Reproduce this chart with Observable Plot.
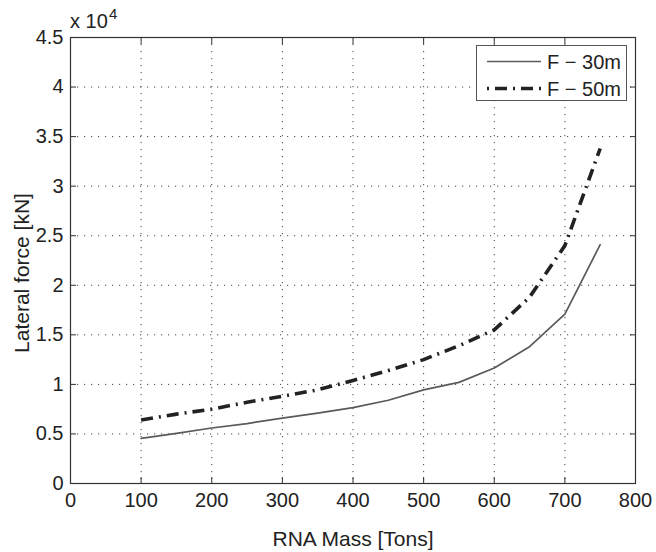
<!DOCTYPE html>
<html><head><meta charset="utf-8">
<script src="https://cdn.jsdelivr.net/npm/d3@7"></script>
<script src="https://cdn.jsdelivr.net/npm/@observablehq/plot@0.6"></script>
<style>
body{margin:0;background:#fff;}
#wrap{position:relative;width:656px;height:552px;font-family:"Liberation Sans",Arial,sans-serif;color:#222;}
#wrap svg{display:block;}
.ov{position:absolute;white-space:nowrap;}
#legend{position:absolute;left:476px;top:45px;width:151px;height:56px;border:1px solid #555;background:#fff;box-sizing:border-box;}
#ytitle{position:absolute;left:21px;top:273px;transform:translate(-50%,-50%) rotate(-90deg);font-size:21px;line-height:21px;white-space:nowrap;}
</style></head><body><div id="wrap"></div>
<script>
// Data
const mass = [100, 150, 200, 250, 300, 350, 400, 450, 500, 550, 600, 650, 700, 750];
const force30 = [4550, 5050, 5600, 6050, 6600, 7100, 7650, 8400, 9450, 10200, 11650, 13800, 17100, 24100];
const force50 = [6400, 7000, 7500, 8200, 8800, 9450, 10400, 11400, 12500, 13900, 15500, 18800, 24000, 33800];
const seriesNames = ["F \u2212 30m", "F \u2212 50m"];
const xTicks = [0, 100, 200, 300, 400, 500, 600, 700, 800];
const yTicks = [0, 5000, 10000, 15000, 20000, 25000, 30000, 35000, 40000, 45000];
const yTickLabels = ["0", "0.5", "1", "1.5", "2", "2.5", "3", "3.5", "4", "4.5"];
const xTitle = "RNA Mass [Tons]";
const yTitle = "Lateral force [kN]";
const exponentBase = "x 10";
const exponent = "4";

const s30 = mass.map((m, i) => ({m, f: force30[i]}));
const s50 = mass.map((m, i) => ({m, f: force50[i]}));

const gridStyle = {stroke: "#444", strokeOpacity: 1, strokeWidth: 1, strokeDasharray: "1.2,5.8"};
const tickStyle = {tickSize: 6, tickFormat: () => "", label: null, stroke: "#333", strokeWidth: 1};

const chart = Plot.plot({
  width: 656, height: 552,
  marginLeft: 70, marginRight: 21, marginTop: 37, marginBottom: 69,
  x: {domain: [0, 800]},
  y: {domain: [0, 45000]},
  style: {fontFamily: "Liberation Sans, Arial, sans-serif", fontSize: "20px", color: "#222", background: "#fff"},
  marks: [
    Plot.gridX(xTicks, gridStyle),
    Plot.gridY(yTicks, gridStyle),
    Plot.axisX(xTicks, {anchor: "bottom", dy: -6, ...tickStyle}),
    Plot.axisX(xTicks, {anchor: "top", dy: 6, ...tickStyle}),
    Plot.axisY(yTicks, {anchor: "left", dx: 6, ...tickStyle}),
    Plot.axisY(yTicks, {anchor: "right", dx: -6, ...tickStyle}),
    Plot.line(s30, {x: "m", y: "f", stroke: "#5a5a5a", strokeWidth: 1.7}),
    Plot.line(s50, {x: "m", y: "f", stroke: "#222", strokeWidth: 3.6, strokeDasharray: "12,6,2,6", strokeLinecap: "butt"}),
    Plot.frame({stroke: "#333", strokeWidth: 1.2}),
    Plot.text(xTicks, {x: d => d, frameAnchor: "bottom", dy: 17.5, text: d => String(d), lineAnchor: "middle", fontSize: 20, fill: "#222"}),
    Plot.text(yTicks, {y: d => d, frameAnchor: "left", dx: -7, textAnchor: "end", lineAnchor: "middle", text: (d, i) => yTickLabels[i], fontSize: 20, fill: "#222"}),
    Plot.text([xTitle], {frameAnchor: "bottom", dy: 56, text: d => d, lineAnchor: "middle", fontSize: 21, fill: "#222"})
  ]
});
const wrap = document.getElementById("wrap");
wrap.appendChild(chart);

// y title
const yt = document.createElement("div");
yt.id = "ytitle";
yt.textContent = yTitle;
wrap.appendChild(yt);

// exponent label
const ex = document.createElement("div");
ex.className = "ov";
ex.style.cssText = "left:70px;top:11px;font-size:20px;line-height:20px;";
ex.textContent = exponentBase;
wrap.appendChild(ex);
const ex2 = document.createElement("div");
ex2.className = "ov";
ex2.style.cssText = "left:109px;top:7px;font-size:15px;line-height:14px;";
ex2.textContent = exponent;
wrap.appendChild(ex2);

// legend
const lg = document.createElement("div");
lg.id = "legend";
const styles = [
  {stroke: "#5a5a5a", width: 1.7, dash: null},
  {stroke: "#222", width: 3.6, dash: "2,6,12,6"}
];
seriesNames.forEach((name, i) => {
  const row = document.createElement("div");
  row.style.cssText = `position:absolute;left:0;top:${6 + i * 27}px;height:20px;width:148px;`;
  const sw = document.createElementNS("http://www.w3.org/2000/svg", "svg");
  sw.setAttribute("width", "56"); sw.setAttribute("height", "20");
  sw.style.cssText = "position:absolute;left:10px;top:0;";
  const ln = document.createElementNS("http://www.w3.org/2000/svg", "line");
  ln.setAttribute("x1", "0"); ln.setAttribute("x2", "54");
  ln.setAttribute("y1", "9.5"); ln.setAttribute("y2", "9.5");
  ln.setAttribute("stroke", styles[i].stroke);
  ln.setAttribute("stroke-width", styles[i].width);
  if (styles[i].dash) ln.setAttribute("stroke-dasharray", styles[i].dash);
  sw.appendChild(ln);
  row.appendChild(sw);
  const tx = document.createElement("div");
  tx.className = "ov";
  tx.style.cssText = "left:70px;top:0;font-size:20px;line-height:20px;";
  tx.textContent = name;
  row.appendChild(tx);
  lg.appendChild(row);
});
wrap.appendChild(lg);
</script>
</body></html>
